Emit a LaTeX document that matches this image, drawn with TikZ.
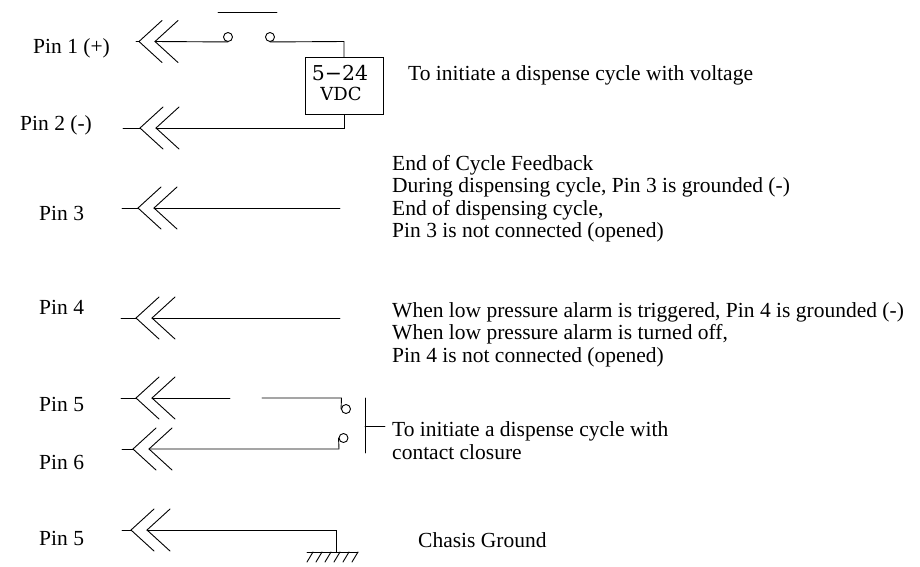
\documentclass[tikz,border=0pt]{standalone}
\usepackage{fontspec}
\setmainfont{Liberation Serif}
\newfontfamily\boxfont{DejaVu Serif}
\begin{document}
\begin{tikzpicture}[x=1pt,y=-1pt,
  wire/.style={line width=0.9pt,line cap=round},
  ring/.style={draw,line width=0.9pt,circle,minimum size=9pt,inner sep=0pt},
  lbl/.style={anchor=base west,inner sep=0pt,font=\fontsize{21.5}{22.6}\selectfont},
  jack/.pic={\draw[wire] (23,-21)--(0,0)--(23,21); \draw[wire] (39,-21)--(16,0)--(39,21);}
]
\useasboundingbox (0,0) rectangle (920,566);
% Pin 1 / Pin 2 with voltage source
\coordinate (l1) at (136,41.5); \coordinate (t1) at (139,41.5); \coordinate (w1) at (155,41.5);
\pic at (t1) {jack};
\draw[wire] (l1)--(t1);
\node[ring] (c1) at (228,37) {};
\node[ring] (c2) at (270,37) {};
\draw[wire] (w1)--(c1.south);
\coordinate (bar1) at (218,12.5); \coordinate (bar2) at (277,12.5);
\draw[wire] (bar1)--(bar2);
\node[draw,line width=0.9pt,minimum width=78pt,minimum height=57pt,inner sep=0pt] (vdc) at (344,85.5) {};
\node[inner sep=0pt,anchor=base,font=\boxfont\fontsize{20.5}{20}\selectfont] (v1) at (340,80) {5−24};
\node[inner sep=0pt,anchor=base,font=\boxfont\fontsize{18}{20}\selectfont] (v2) at (341,100.5) {VDC};
\draw[wire] (c2.south)--(344,41.5)--(vdc.north);
\coordinate (l2) at (123,128); \coordinate (t2) at (140,128); \coordinate (w2) at (156,128);
\pic at (t2) {jack};
\draw[wire] (l2)--(t2);
\draw[wire] (w2)--(344,128)--(vdc.south);
\node[lbl] (p1) at (33,53) {Pin 1 (+)};
\node[lbl] (p2) at (20,130) {Pin 2 (-)};
\node[lbl] (d1) at (408,80) {To initiate a dispense cycle with voltage};
% Pin 3
\coordinate (l3) at (122,208); \coordinate (t3) at (138,208); \coordinate (w3) at (154,208); \coordinate (e3) at (340,208);
\pic at (t3) {jack};
\draw[wire] (l3)--(t3); \draw[wire] (w3)--(e3);
\node[lbl] (p3) at (39,220) {Pin 3};
\node[lbl] (d3a) at (392,170) {End of Cycle Feedback};
\node[lbl] (d3b) at (392,192.6) {During dispensing cycle, Pin 3 is grounded (-)};
\node[lbl] (d3c) at (392,215.2) {End of dispensing cycle,};
\node[lbl] (d3d) at (392,237.8) {Pin 3 is not connected (opened)};
% Pin 4
\coordinate (l4) at (121,318); \coordinate (t4) at (136,318); \coordinate (w4) at (152,318); \coordinate (e4) at (340,318);
\pic at (t4) {jack};
\draw[wire] (l4)--(t4); \draw[wire] (w4)--(e4);
\node[lbl] (p4) at (39,314) {Pin 4};
\node[lbl] (d4a) at (392,317) {When low pressure alarm is triggered, Pin 4 is grounded (-)};
\node[lbl] (d4b) at (392,339.6) {When low pressure alarm is turned off,};
\node[lbl] (d4c) at (392,362.2) {Pin 4 is not connected (opened)};
% Pin 5 / Pin 6 contact closure
\coordinate (l5) at (121,398); \coordinate (t5) at (136,398); \coordinate (w5) at (152,398);
\coordinate (g5a) at (230,398); \coordinate (g5b) at (262,398);
\pic at (t5) {jack};
\draw[wire] (l5)--(t5); \draw[wire] (w5)--(g5a);
\node[ring] (c5) at (346,409) {};
\draw[wire] (g5b)--(341.5,398)--(c5.west);
\coordinate (l6) at (122,449); \coordinate (t6) at (133,449); \coordinate (w6) at (149,449);
\pic at (t6) {jack};
\draw[wire] (l6)--(t6);
\node[ring] (c6) at (343.5,438) {};
\draw[wire] (w6)--(339,449)--(c6.west);
\coordinate (sb1) at (365,398); \coordinate (sb2) at (365,453); \coordinate (sbm) at (365,426); \coordinate (sbt) at (385,426);
\draw[wire] (sb1)--(sb2); \draw[wire] (sbm)--(sbt);
\node[lbl] (p5) at (39,411) {Pin 5};
\node[lbl] (p6) at (39,469) {Pin 6};
\node[lbl] (d5a) at (392,436) {To initiate a dispense cycle with};
\node[lbl] (d5b) at (392,459.5) {contact closure};
% Chassis ground
\coordinate (l7) at (122,530); \coordinate (t7) at (131,530); \coordinate (w7) at (147,530); \coordinate (e7) at (336,530); \coordinate (gnd) at (336,552);
\pic at (t7) {jack};
\draw[wire] (l7)--(t7); \draw[wire] (w7)--(e7)--(gnd);
\draw[wire] (307,552)--(358,552);
\foreach \k in {0,...,5} {\draw[wire] ({313+9*\k},552)--({307+9*\k},562);}
\node[lbl] (p7) at (39,545) {Pin 5};
\node[lbl] (d7) at (418,547) {Chasis Ground};
\end{tikzpicture}
\end{document}
